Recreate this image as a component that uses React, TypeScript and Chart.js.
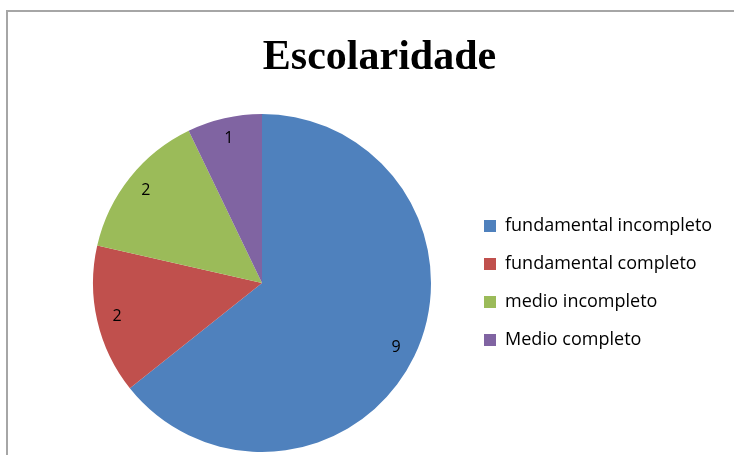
import React, { useEffect, useRef } from "react";
import { Chart, registerables } from "chart.js";

Chart.register(...registerables);

const categories = [
  "fundamental incompleto",
  "fundamental completo",
  "medio incompleto",
  "Medio completo",
];
const counts = [9, 2, 2, 1];
const colors = ["#4F81BD", "#C0504D", "#9BBB59", "#8064A2"];
const titleText = "Escolaridade";

const labelPlugin = {
  id: "sliceLabels",
  afterDatasetsDraw(chart: any) {
    const meta = chart.getDatasetMeta(0);
    const ctx = chart.ctx;
    ctx.save();
    ctx.font = "16px 'Open Sans'";
    ctx.fillStyle = "#000";
    ctx.textAlign = "center";
    ctx.textBaseline = "middle";
    meta.data.forEach((arc: any, i: number) => {
      const p = arc.getProps(["x", "y", "startAngle", "endAngle", "outerRadius"], true);
      const mid = (p.startAngle + p.endAngle) / 2;
      const r = p.outerRadius * 0.88;
      ctx.fillText(String(counts[i]), p.x + Math.cos(mid) * r, p.y + Math.sin(mid) * r);
    });
    ctx.restore();
  },
};

export default function App() {
  const ref = useRef<HTMLCanvasElement | null>(null);
  useEffect(() => {
    if (!ref.current) return;
    const chart = new Chart(ref.current, {
      type: "pie",
      data: {
        labels: categories,
        datasets: [
          {
            data: counts,
            backgroundColor: colors,
            borderWidth: 0,
          },
        ],
      },
      options: {
        responsive: false,
        animation: false,
        devicePixelRatio: 1,
        layout: { padding: { left: 47, right: 22, top: 0, bottom: 3 } },
        scales: {
          spacer: {
            type: "category",
            position: "left",
            display: true,
            grid: { display: false, drawTicks: false },
            border: { display: false },
            ticks: { display: false },
            afterFit(scale: any) {
              scale.width = 13;
            },
          },
        } as any,
        plugins: {
          tooltip: { enabled: false },
          title: {
            display: true,
            text: titleText,
            color: "#000",
            font: { family: "'Liberation Serif', 'Times New Roman', serif", size: 42, weight: "bold" },
            padding: { top: 33, bottom: 30.6 },
          },
          legend: {
            position: "right",
            fullSize: false,
            maxWidth: 248,
            align: "center",
            labels: {
              color: "#000",
              font: { family: "'Open Sans'", size: 18 },
              boxWidth: 12,
              boxHeight: 12,
              padding: 20,
            },
          },
        },
      },
      plugins: [labelPlugin],
    });
    return () => chart.destroy();
  }, []);
  return (
    <div style={{ position: "absolute", left: 0, top: 0, width: 734, height: 455, background: "#fff", overflow: "hidden" }}>
      <div
        style={{
          position: "absolute",
          left: 6,
          top: 10,
          width: 800,
          height: 500,
          borderLeft: "2px solid #a6a6a6",
          borderTop: "2px solid #a6a6a6",
        }}
      />
      <canvas ref={ref} width={734} height={455} style={{ position: "absolute", left: 0, top: 0 }} />
    </div>
  );
}
